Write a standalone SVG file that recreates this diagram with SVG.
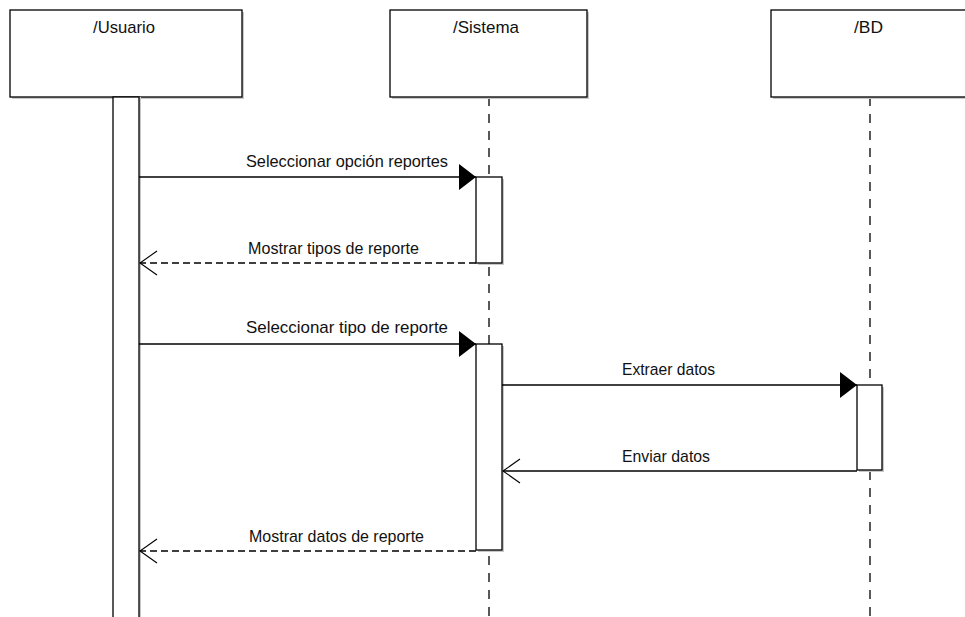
<svg xmlns="http://www.w3.org/2000/svg" width="965" height="617" viewBox="0 0 965 617">
  <style>
    .box { fill: #ffffff; stroke: #000000; stroke-width: 1.3; }
    .shadow { fill: #c8c8c8; stroke: none; }
    .life { stroke: #000000; stroke-width: 1.3; stroke-dasharray: 9 8; fill: none; }
    .msg { stroke: #000000; stroke-width: 1.3; fill: none; }
    .ret { stroke: #000000; stroke-width: 1.3; stroke-dasharray: 7 4; fill: none; }
    .lbl { font-family: "Liberation Sans", Arial, sans-serif; font-size: 17px; fill: #111111; }
  </style>
  <defs>
    <marker id="filled" markerWidth="18" markerHeight="26" refX="17" refY="13" orient="auto" markerUnits="userSpaceOnUse">
      <path d="M0,0 L17,13 L0,26 Z" fill="#000000"/>
    </marker>
    <marker id="open" markerWidth="20" markerHeight="28" refX="18" refY="13" orient="auto" markerUnits="userSpaceOnUse">
      <path d="M1,1 L18,13 L1,25" fill="none" stroke="#000000" stroke-width="1.1"/>
    </marker>
  </defs>

  <rect width="965" height="617" fill="#ffffff"/>

  <!-- lifelines -->
  <g id="lifelines">
    <line class="life" x1="489" y1="97" x2="489" y2="617"/>
    <line class="life" x1="870" y1="97" x2="870" y2="617"/>
  </g>

  <g id="usuario">
    <rect class="shadow" x="12" y="12" width="232" height="87"/>
    <rect class="box" x="10" y="10" width="232" height="87"/>
    <text class="lbl" x="93" y="33" textLength="62" lengthAdjust="spacingAndGlyphs">/Usuario</text>
    <rect class="shadow" x="115" y="97" width="26" height="522"/>
    <rect class="box" x="113" y="97" width="26" height="522"/>
  </g>

  <g id="sistema">
    <rect class="shadow" x="392" y="12" width="197" height="87"/>
    <rect class="box" x="390" y="10" width="197" height="87"/>
    <text class="lbl" x="453" y="33" textLength="66" lengthAdjust="spacingAndGlyphs">/Sistema</text>
    <rect class="shadow" x="478" y="179" width="26" height="86"/>
    <rect class="box" x="476" y="177" width="26" height="86"/>
    <rect class="shadow" x="478" y="346" width="26" height="206"/>
    <rect class="box" x="476" y="344" width="26" height="206"/>
  </g>

  <g id="bd">
    <rect class="shadow" x="773" y="12" width="200" height="87"/>
    <rect class="box" x="771" y="10" width="200" height="87"/>
    <text class="lbl" x="854" y="33" textLength="29" lengthAdjust="spacingAndGlyphs">/BD</text>
    <rect class="shadow" x="859" y="387" width="25" height="85"/>
    <rect class="box" x="857" y="385" width="25" height="85"/>
  </g>

  <g id="connectors">
    <line class="msg" x1="139" y1="177" x2="476" y2="177" marker-end="url(#filled)"/>
    <text class="lbl" x="246" y="167" textLength="202" lengthAdjust="spacingAndGlyphs">Seleccionar opción reportes</text>

    <line class="ret" x1="476" y1="263" x2="140" y2="263" marker-end="url(#open)"/>
    <text class="lbl" x="248" y="254" textLength="171" lengthAdjust="spacingAndGlyphs">Mostrar tipos de reporte</text>

    <line class="msg" x1="139" y1="344" x2="476" y2="344" marker-end="url(#filled)"/>
    <text class="lbl" x="246" y="333" textLength="202" lengthAdjust="spacingAndGlyphs">Seleccionar tipo de reporte</text>

    <line class="msg" x1="502" y1="385" x2="857" y2="385" marker-end="url(#filled)"/>
    <text class="lbl" x="622" y="375" textLength="93" lengthAdjust="spacingAndGlyphs">Extraer datos</text>

    <line class="msg" x1="857" y1="471" x2="503" y2="471" marker-end="url(#open)"/>
    <text class="lbl" x="622" y="462" textLength="88" lengthAdjust="spacingAndGlyphs">Enviar datos</text>

    <line class="ret" x1="476" y1="551" x2="140" y2="551" marker-end="url(#open)"/>
    <text class="lbl" x="249" y="542" textLength="175" lengthAdjust="spacingAndGlyphs">Mostrar datos de reporte</text>
  </g>
</svg>
